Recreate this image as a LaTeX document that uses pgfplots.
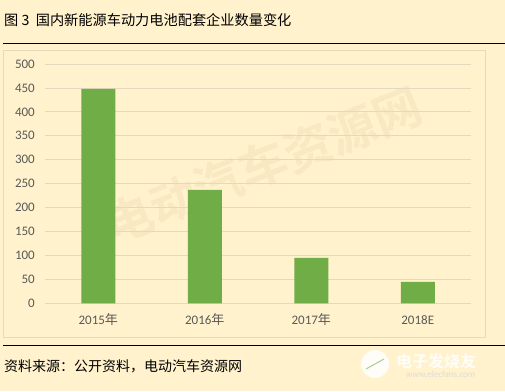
\documentclass[border=0pt]{standalone}
\usepackage{pgfplots}
\pgfplotsset{compat=1.18}
\usepackage{fontspec}
\setmainfont{Carlito}
\newfontfamily\cjk{Noto Sans CJK SC}
\newfontfamily\cjkb{Noto Sans CJK SC Bold}

\definecolor{paper}{HTML}{FFF2CC}
\definecolor{bargreen}{HTML}{70AD47}
\definecolor{gridc}{HTML}{E2D9BF}
\definecolor{framec}{HTML}{E6DBB8}
\definecolor{txt}{HTML}{595959}
\definecolor{wmark}{HTML}{F8E9C3}

\begin{document}
\begin{tikzpicture}[x=1pt,y=1pt]
  % page background
  \fill[paper] (0,0) rectangle (505,391);
  \useasboundingbox (0,0) rectangle (505,391);

  % heading and rules
  \node[anchor=west, inner sep=0pt, text=black] at (4,371)
    {\cjk\fontsize{14.2}{17}\selectfont 图 3\ \ 国内新能源车动力电池配套企业数量变化};
  \draw[black, line width=0.9pt] (3,348) -- (505,348);
  \draw[black, line width=0.9pt] (3,46) -- (505,46);

  % chart frame
  \draw[framec, line width=0.8pt] (3.5,341) rectangle (485.5,54);

  % background watermark
  \node[rotate=21.7, text=wmark, inner sep=0pt] at (263,226)
    {\cjkb\fontsize{48}{50}\selectfont 电动汽车资源网};

  \begin{axis}[
    at={(45pt,87.7pt)}, anchor=south west,
    scale only axis, width=426pt, height=239.3pt,
    xmin=-0.5, xmax=3.5, ymin=0, ymax=500,
    ytick={0,50,...,500},
    xtick={0,1,2,3},
    xticklabels={{2015{\cjk 年}},{2016{\cjk 年}},{2017{\cjk 年}},2018E},
    axis line style={draw=none},
    major tick length=0pt,
    ymajorgrids, grid style={gridc, line width=0.8pt},
    tick label style={text=txt, font=\fontsize{13}{15}\selectfont},
    yticklabel style={anchor=east, inner sep=0pt, xshift=-10pt},
    xticklabel style={anchor=base, inner sep=0pt, yshift=-20.7pt},
    /pgf/number format/assume math mode=true,
    clip=false,
  ]
    \addplot[ybar, bar width=34pt, fill=bargreen, draw=none]
      coordinates {(0,448) (1,237) (2,95) (3,45)};
  \end{axis}

  % source line
  \node[anchor=west, inner sep=0pt, text=black] at (4,25)
    {\cjk\fontsize{14}{16}\selectfont 资料来源：公开资料，电动汽车资源网};

  % corner logo
  \fill[white, opacity=0.85] (375,27) circle (14);
  \draw[bargreen!60, line width=1pt] (366,22) -- (384,32);
  \node[anchor=west, inner sep=0pt, text=white, opacity=0.9] at (396,30)
    {\cjkb\fontsize{16}{18}\selectfont 电子发烧友};
  \node[anchor=west, inner sep=0pt, text=white!70!gray, opacity=0.9] at (406,17)
    {\fontsize{9}{10}\selectfont www.elecfans.com};
\end{tikzpicture}
\end{document}
